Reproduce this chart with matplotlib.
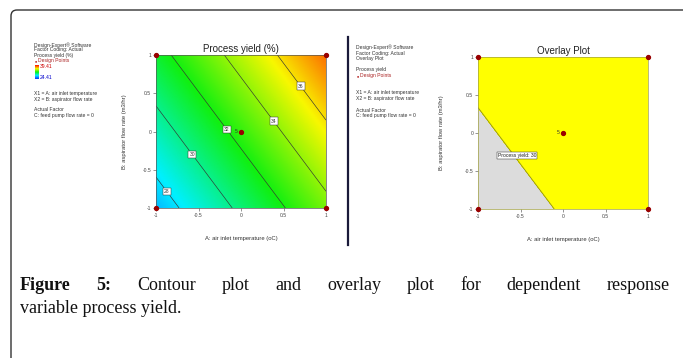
import numpy as np
import matplotlib
matplotlib.use("Agg")
import matplotlib.pyplot as plt
from matplotlib.colors import LinearSegmentedColormap, ListedColormap
from matplotlib.path import Path
from matplotlib.patches import PathPatch

# fitted response surface: yield = b0 + bA*A + bB*B (coded units)
coef_intercept = 32.48
coef_a = 3.2
coef_b = 2.15

contour_levels = [28, 30, 32, 34, 36]
overlay_limit = 30
data_low, data_high = 24.41, 39.41

# design points (coded)
design_a = [-1, 1, -1, 1, 0]
design_b = [-1, -1, 1, 1, 0]
center_reps = "5"

ticks = [-1, -0.5, 0, 0.5, 1]
tick_labels = ["-1", "-0.5", "0", "0.5", "1"]

W, H = 683, 358


def fx(px):
    return px / W


def fy(py):
    return 1 - py / H


plt.rcParams["font.family"] = ["Liberation Sans", "DejaVu Sans"]

fig = plt.figure(figsize=(W / 100, H / 100), dpi=100)
fig.patch.set_facecolor("white")

de_cmap = LinearSegmentedColormap.from_list(
    "de", [(0, "#1030ff"), (0.25, "#00f0ff"), (0.5, "#10f010"), (0.75, "#f8f800"), (1, "#ff1000")]
)

grid = np.linspace(-1, 1, 201)
A, B = np.meshgrid(grid, grid)
Y = coef_intercept + coef_a * A + coef_b * B


def style_axes(ax, spine_color):
    ax.set_xlim(-1, 1)
    ax.set_ylim(-1, 1)
    ax.set_xticks(ticks)
    ax.set_xticklabels(tick_labels)
    ax.set_yticks(ticks)
    ax.set_yticklabels(tick_labels)
    ax.tick_params(labelsize=3.6, length=2, width=0.4, pad=1.5, colors="#444444")
    for s in ax.spines.values():
        s.set_linewidth(0.5)
        s.set_color(spine_color)
    ax.set_xlabel("A: air inlet temperature (oC)", fontsize=4.2, color="#333333")
    ax.set_ylabel("B: aspirator flow rate (m3/hr)", fontsize=4.2, color="#333333")
    ax.xaxis.set_label_coords(0.5, -0.185)


def design_points(ax):
    ax.plot(design_a, design_b, "o", color="#990000", ms=2.8, clip_on=False, zorder=5)
    ax.text(-0.035, 0.0, center_reps, fontsize=3.6, ha="right", va="center", color="#333333", zorder=5)


# ---- left: contour plot ----
ax1 = fig.add_axes([fx(156), fy(208), 170 / W, 153 / H])
ax1.imshow(Y, extent=(-1, 1, -1, 1), origin="lower", cmap=de_cmap,
           vmin=data_low, vmax=data_high, aspect="auto", interpolation="bilinear")
cs = ax1.contour(A, B, Y, levels=contour_levels, colors="#333333", linewidths=0.45)
label_pos = [(-0.85, -0.77), (-0.56, -0.29), (-0.16, 0.03), (0.39, 0.14), (0.70, 0.59)]
cl = ax1.clabel(cs, fmt="%d", fontsize=3.6, inline=True, inline_spacing=2, manual=label_pos)
for t in cl:
    t.set_bbox(dict(boxstyle="square,pad=0.25", fc="white", ec="#333333", lw=0.35))
    t.set_rotation(0)
style_axes(ax1, "#555555")
ax1.yaxis.set_label_coords(-0.17, 0.5)
ax1.set_title("Process yield (%)", fontsize=7, pad=2, color="#222222")
design_points(ax1)

# ---- right: overlay plot ----
ax2 = fig.add_axes([fx(478), fy(209), 170 / W, 152 / H])
ax2.contourf(A, B, Y, levels=[Y.min() - 1, overlay_limit, Y.max() + 1],
             cmap=ListedColormap(["#dcdcdc", "#ffff00"]))
ax2.contour(A, B, Y, levels=[overlay_limit], colors="#8c8c20", linewidths=0.6)
ax2.text(-0.54, -0.30, "Process yield: %d" % overlay_limit, fontsize=3.6, ha="center", va="center",
         color="#222222", bbox=dict(boxstyle="square,pad=0.2", fc="white", ec="#333333", lw=0.35))
style_axes(ax2, "#a0a040")
ax2.yaxis.set_label_coords(-0.2, 0.5)
ax2.set_title("Overlay Plot", fontsize=7, pad=2, color="#222222")
design_points(ax2)

# ---- side legends ----
small = dict(fontsize=3.6, color="#333333", va="center", ha="left")
left_lines = [
    ("Design-Expert\u00ae Software", 45), ("Factor Coding: Actual", 50), ("Process yield (%)", 55),
    ("X1 = A: air inlet temperature", 93.5), ("X2 = B: aspirator flow rate", 99),
    ("Actual Factor", 109.5), ("C: feed pump flow rate = 0", 115),
]
for s, y in left_lines:
    fig.text(fx(34), fy(y), s, **small)
fig.text(fx(35), fy(60.7), "\u25cf", fontsize=2.6, color="#aa0000", va="center", ha="left")
fig.text(fx(38.5), fy(60.7), "Design Points", fontsize=3.6, color="#aa2222", va="center", ha="left")
cax = fig.add_axes([fx(34.5), fy(79), 3.5 / W, 14 / H])
cax.imshow(np.linspace(0, 1, 50)[:, None], cmap=de_cmap, origin="lower", aspect="auto")
cax.set_axis_off()
fig.text(fx(39.5), fy(66.5), "%.2f" % data_high, fontsize=3.6, color="#cc0000", va="center", ha="left")
fig.text(fx(39.5), fy(77.3), "%.2f" % data_low, fontsize=3.6, color="#0000cc", va="center", ha="left")

right_lines = [
    ("Design-Expert\u00ae Software", 47.5), ("Factor Coding: Actual", 53), ("Overlay Plot", 58.5),
    ("Process yield", 70), ("X1 = A: air inlet temperature", 92.5), ("X2 = B: aspirator flow rate", 98.3),
    ("Actual Factor", 110), ("C: feed pump flow rate = 0", 115.7),
]
for s, y in right_lines:
    fig.text(fx(356), fy(y), s, **small)
fig.text(fx(356.5), fy(75.7), "\u25cf", fontsize=2.6, color="#aa0000", va="center", ha="left")
fig.text(fx(360), fy(75.7), "Design Points", fontsize=3.6, color="#aa2222", va="center", ha="left")

# divider between the two panels
fig.add_artist(plt.Line2D([fx(348), fx(348)], [fy(37), fy(245)], color="#1a1a3a", lw=1.6))

# outer frame with rounded top-left corner
frame = Path([(fx(683), fy(10)), (fx(17), fy(10)), (fx(11), fy(10)), (fx(11), fy(16)), (fx(11), fy(358))],
             [Path.MOVETO, Path.LINETO, Path.CURVE3, Path.CURVE3, Path.LINETO])
fig.add_artist(PathPatch(frame, fill=False, ec="#333333", lw=1.0, transform=fig.transFigure))

# ---- caption (justified first line) ----
cap = dict(fontsize=13, family=["Liberation Serif", "DejaVu Serif"], va="baseline", color="#111111")
words = [("Figure", "bold"), ("5:", "bold"), ("Contour", "normal"), ("plot", "normal"), ("and", "normal"),
         ("overlay", "normal"), ("plot", "normal"), ("for", "normal"), ("dependent", "normal"),
         ("response", "normal")]
texts = [fig.text(0, fy(290), w, fontweight=wt, ha="left", **cap) for w, wt in words]
renderer = fig.canvas.get_renderer()
widths = [t.get_window_extent(renderer).width for t in texts]
x0, x1 = 20, 670
gap = (x1 - x0 - sum(widths)) / (len(words) - 1)
x = x0
for t, w in zip(texts, widths):
    t.set_x(fx(x))
    x += w + gap
fig.text(fx(20), fy(313), "variable process yield.", ha="left", **cap)

fig.savefig("out.png", dpi=100)
